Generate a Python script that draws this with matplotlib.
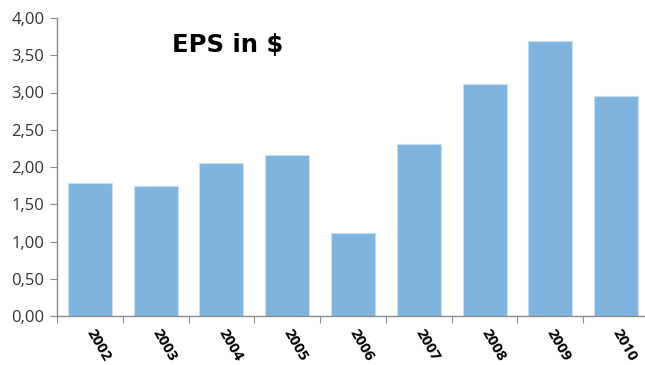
import matplotlib.pyplot as plt
from matplotlib.ticker import FuncFormatter, FixedLocator

# Zysk na akcję w kolejnych latach
years = ['2002', '2003', '2004', '2005', '2006', '2007', '2008', '2009', '2010']
eps = [1.78, 1.75, 2.06, 2.16, 1.11, 2.31, 3.11, 3.69, 2.95]

fig = plt.figure(figsize=(6.45, 3.65), dpi=100)
# oś wychodzi minimalnie poza prawą krawędź obrazka
ax = fig.add_axes([57/645, 1 - 316/365, 592/645, 298/365])

x = range(len(years))
ax.bar(x, eps, width=0.67, color='#7eb4dd', edgecolor='#c8def2', linewidth=0.8)

ax.set_xlim(-0.5, len(years) - 0.5)
ax.set_ylim(0, 4)
ax.set_yticks([0, 0.5, 1, 1.5, 2, 2.5, 3, 3.5, 4])
ax.yaxis.set_major_formatter(FuncFormatter(lambda v, p: f'{v:.2f}'.replace('.', ',')))

# znaczniki osi X na granicach kategorii, etykiety na środkach
ax.xaxis.set_major_locator(FixedLocator([i - 0.5 for i in range(len(years) + 1)]))
ax.xaxis.set_major_formatter(FuncFormatter(lambda v, p: ''))
ax.set_xticks(list(x), minor=True)
ax.set_xticklabels(years, minor=True, rotation=-60, ha='left', va='center',
                   rotation_mode='anchor', fontsize=11, fontweight='bold',
                   family='Open Sans')
ax.tick_params(axis='x', which='minor', length=0, pad=10)
ax.tick_params(axis='x', which='major', length=5, color='#8c8c8c', direction='out')
ax.tick_params(axis='y', length=5, color='#8c8c8c', direction='out', pad=4,
               labelsize=12, labelcolor='#333333')
for lab in ax.get_yticklabels():
    lab.set_family('Open Sans')

for s in ['top', 'right']:
    ax.spines[s].set_visible(False)
for s in ['left', 'bottom']:
    ax.spines[s].set_color('#8c8c8c')
    ax.spines[s].set_linewidth(1)

fig.text(228/645, 1 - 45/365, 'EPS in $', fontsize=17.5, fontweight='bold',
         family='DejaVu Sans', ha='center', va='center')

fig.savefig('out.png', dpi=100)
